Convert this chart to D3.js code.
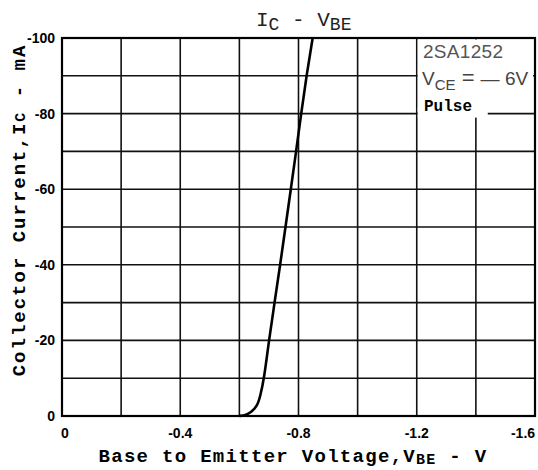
<!DOCTYPE html>
<html>
<head>
<meta charset="utf-8">
<script src="https://cdn.jsdelivr.net/npm/d3@7"></script>
<style>
  body { margin: 0; background: #fff; }
  svg { display: block; }
</style>
</head>
<body>
<div id="chart"></div>
<script>
// Curve: V_BE (V) vs I_C (mA)
const vbe = [-0.60, -0.62, -0.64, -0.66, -0.67, -0.684, -0.70, -0.719, -0.738, -0.756, -0.774, -0.792, -0.809, -0.827, -0.848];
const ic  = [0, -0.2, -1, -2.6, -5, -10, -20, -30, -40, -50, -60, -70, -80, -90, -100];

const xTicks = [0, -0.4, -0.8, -1.2, -1.6];
const xTickLabels = ["0", "-0.4", "-0.8", "-1.2", "-1.6"];
const xGrid = [0, -0.2, -0.4, -0.6, -0.8, -1.0, -1.2, -1.4, -1.6];
const yTicks = [0, -20, -40, -60, -80, -100];
const yTickLabels = ["0", "-20", "-40", "-60", "-80", "-100"];
const yGrid = [0, -10, -20, -30, -40, -50, -60, -70, -80, -90, -100];

const W = 538, H = 470;
const margin = { top: 38, right: 3, bottom: 54, left: 62 };

const svg = d3.select("#chart").append("svg")
    .attr("width", W)
    .attr("height", H);

const x = d3.scaleLinear().domain([0, -1.6]).range([margin.left, W - margin.right]);
const y = d3.scaleLinear().domain([0, -100]).range([H - margin.bottom, margin.top]);

// grid
const grid = svg.append("g").attr("stroke", "#111").attr("stroke-width", 1.6);
grid.selectAll(".vg").data(xGrid).enter().append("line")
    .attr("x1", d => x(d)).attr("x2", d => x(d))
    .attr("y1", y(0)).attr("y2", y(-100));
grid.selectAll(".hg").data(yGrid).enter().append("line")
    .attr("x1", x(0)).attr("x2", x(-1.6))
    .attr("y1", d => y(d)).attr("y2", d => y(d));

// white patch behind the legend text (gridlines are broken there)
svg.append("rect")
    .attr("x", x(-1.2) + 1).attr("y", y(-100) + 1.5)
    .attr("width", x(-1.6) - x(-1.2) - 3).attr("height", y(-80) - y(-100) - 4)
    .attr("fill", "#fff");
svg.append("rect")
    .attr("x", x(-1.2) + 1).attr("y", y(-80) - 6)
    .attr("width", 70).attr("height", 10)
    .attr("fill", "#fff");

// frame
svg.append("rect")
    .attr("x", x(0)).attr("y", y(-100))
    .attr("width", x(-1.6) - x(0)).attr("height", y(0) - y(-100))
    .attr("fill", "none").attr("stroke", "#000").attr("stroke-width", 2.2);

// curve
const pts = vbe.map((v, i) => [v, ic[i]]);
svg.append("path")
    .datum(pts)
    .attr("fill", "none")
    .attr("stroke", "#000")
    .attr("stroke-width", 2.6)
    .attr("d", d3.line().x(d => x(d[0])).y(d => y(d[1])).curve(d3.curveBasis));

// tick labels
const tickFont = "'Liberation Sans', Arial, sans-serif";
svg.append("g").selectAll("text").data(xTicks).enter().append("text")
    .attr("x", (d, i) => i === 0 ? x(d) + 3 : (i === xTicks.length - 1 ? x(d) - 12 : x(d)))
    .attr("y", 438)
    .attr("text-anchor", "middle")
    .attr("font-family", tickFont).attr("font-weight", "bold").attr("font-size", 14)
    .text((d, i) => xTickLabels[i]);

svg.append("g").selectAll("text").data(yTicks).enter().append("text")
    .attr("x", 55)
    .attr("y", d => y(d) + 5)
    .attr("text-anchor", "end")
    .attr("font-family", tickFont).attr("font-weight", "bold").attr("font-size", 14)
    .text((d, i) => yTickLabels[i]);

// axis titles
const mono = "'Liberation Mono', 'DejaVu Sans Mono', monospace";
const xt = svg.append("text")
    .attr("x", 293).attr("y", 462)
    .attr("text-anchor", "middle")
    .attr("font-family", mono).attr("font-weight", "bold").attr("font-size", 19)
    .attr("letter-spacing", 1.3);
xt.append("tspan").text("Base to Emitter Voltage,V");
xt.append("tspan").attr("font-size", 15).attr("dy", 2).text("BE");
xt.append("tspan").attr("dy", -2).text(" - V");

const yt = svg.append("text")
    .attr("transform", "translate(25,210) rotate(-90)")
    .attr("text-anchor", "middle")
    .attr("font-family", mono).attr("font-weight", "bold").attr("font-size", 19)
    .attr("letter-spacing", 2);
yt.append("tspan").text("Collector Current,I");
yt.append("tspan").attr("font-size", 15).text("C");
yt.append("tspan").text(" - mA");

// chart title
const tt = svg.append("text")
    .attr("x", 256).attr("y", 26)
    .attr("font-family", mono).attr("font-size", 21).attr("fill", "#222");
tt.append("tspan").text("I");
tt.append("tspan").attr("font-size", 18).attr("dy", 4).text("C");
tt.append("tspan").attr("dy", -4).text(" - V");
tt.append("tspan").attr("font-size", 18).attr("dy", 4).text("BE");

// legend text
const legFont = "'Liberation Sans', Arial, sans-serif";
svg.append("text")
    .attr("x", 423).attr("y", 58)
    .attr("font-family", legFont).attr("font-size", 19).attr("fill", "#555")
    .attr("letter-spacing", 0.3)
    .text("2SA1252");
const vce = svg.append("text")
    .attr("x", 422).attr("y", 85)
    .attr("font-family", legFont).attr("font-size", 19).attr("fill", "#444");
vce.append("tspan").text("V");
vce.append("tspan").attr("font-size", 15).attr("dy", 5).text("CE");
vce.append("tspan").attr("dy", -5).attr("font-size", 22).text(" = ");
vce.append("tspan").text("\u2014 6V");
svg.append("text")
    .attr("x", 424).attr("y", 111)
    .attr("font-family", mono).attr("font-weight", "bold").attr("font-size", 16)
    .text("Pulse");
</script>
</body>
</html>
